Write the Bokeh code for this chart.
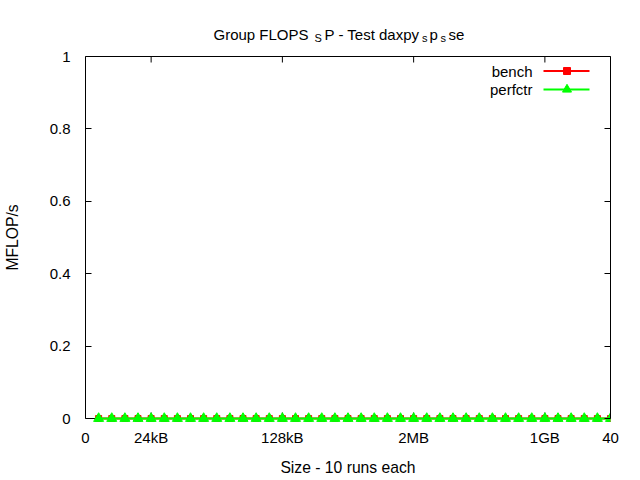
from bokeh.plotting import figure
from bokeh.models import Range1d, LinearAxis, FixedTicker, Label, Span
from bokeh.embed import file_html
from bokeh.resources import INLINE

# ---- data ----
sizes = [1, 2, 3, 4, 5, 6, 7, 8, 9, 10, 11, 12, 13, 14, 15, 16, 17, 18, 19, 20,
         21, 22, 23, 24, 25, 26, 27, 28, 29, 30, 31, 32, 33, 34, 35, 36, 37, 38, 39, 40]
bench = [0, 0, 0, 0, 0, 0, 0, 0, 0, 0, 0, 0, 0, 0, 0, 0, 0, 0, 0, 0,
         0, 0, 0, 0, 0, 0, 0, 0, 0, 0, 0, 0, 0, 0, 0, 0, 0, 0, 0, 0]
perfctr = [0, 0, 0, 0, 0, 0, 0, 0, 0, 0, 0, 0, 0, 0, 0, 0, 0, 0, 0, 0,
           0, 0, 0, 0, 0, 0, 0, 0, 0, 0, 0, 0, 0, 0, 0, 0, 0, 0, 0, 0]
x_ticks = [0, 5, 15, 25, 35, 40]
x_tick_labels = ["0", "24kB", "128kB", "2MB", "1GB", "40"]
y_ticks = [0, 0.2, 0.4, 0.6, 0.8, 1.0]
y_tick_labels = ["0", "0.2", "0.4", "0.6", "0.8", "1"]
series_names = ["bench", "perfctr"]
# title "Group FLOPS_SP - Test daxpy_sp_sse" in gnuplot enhanced-text pieces
title_texts = ["Group FLOPS", "S", "P - Test daxpy", "s", "p", "s", "se"]
title_is_sub = [False, True, False, True, False, True, False]

FONT = "Liberation Sans"
FS = "15px"
FS_LABEL = "15.7px"
RED = "#ff0000"
GREEN = "#00ff00"

# plot box: 85..610 x 56..418 px.  The frame is padded 56 px below y=0 (so markers on
# y=0 are not cut and the frame stays centred on the box) and reaches up to the
# canvas top (so the title can be drawn).
BOX_H = 362
PAD_BOT = 56
PAD_TOP = 56
p = figure(width=640, height=480, output_backend="svg", toolbar_location=None,
           x_range=Range1d(0, 40),
           y_range=Range1d(-PAD_BOT / BOX_H, 1 + PAD_TOP / BOX_H),
           min_border_left=85, min_border_right=30, min_border_top=0,
           min_border_bottom=480 - BOX_H - PAD_TOP - PAD_BOT)
p.extra_y_ranges = {"px": Range1d(-PAD_BOT, BOX_H + PAD_TOP)}
p.extra_x_ranges = {"px": Range1d(0, 525)}
p.grid.visible = False
p.outline_line_color = None
p.background_fill_color = "white"
p.border_fill_color = "white"

def style_axis(ax, ticks, labels, show, bounds):
    ax.ticker = FixedTicker(ticks=ticks)
    ax.bounds = bounds
    if show:
        ax.major_label_overrides = {t: l for t, l in zip(ticks, labels)}
    else:
        ax.major_label_overrides = {t: "" for t in ticks}
    ax.major_tick_in = 6
    ax.major_tick_out = 0
    ax.minor_tick_in = 0
    ax.minor_tick_out = 0
    ax.axis_line_color = "black"
    ax.major_tick_line_color = "black"
    ax.major_label_text_font = FONT
    ax.major_label_text_font_size = FS
    ax.major_label_text_color = "black"

xa = p.xaxis[0]
ya = p.yaxis[0]
style_axis(xa, x_ticks, x_tick_labels, True, (0, 40))
style_axis(ya, y_ticks, y_tick_labels, True, (0, 1))
# bottom axis sits at the padded frame edge: its line/ticks are drawn at y=0 instead
xa.axis_line_color = None
xa.major_tick_line_color = None
xa.major_label_standoff = 10 - PAD_BOT
ya.major_label_standoff = 15
xa.axis_label = "Size - 10 runs each"
ya.axis_label = "MFLOP/s"
for ax in (xa, ya):
    ax.axis_label_text_font = FONT
    ax.axis_label_text_font_size = FS_LABEL
    ax.axis_label_text_font_style = "normal"
    ax.axis_label_text_color = "black"
xa.axis_label_standoff = 10
ya.axis_label_standoff = 26

right = LinearAxis()
style_axis(right, y_ticks, y_tick_labels, False, (0, 1))
p.add_layout(right, "right")

# bottom and top border lines with their inward ticks
p.add_layout(Span(location=0, dimension="width", line_color="black", line_width=1,
                  level="underlay"))
p.add_layout(Span(location=1, dimension="width", line_color="black", line_width=1,
                  level="underlay"))
n = len(x_ticks)
p.segment(x0=x_ticks, y0=[0] * n, x1=x_ticks, y1=[6] * n,
          y_range_name="px", line_color="black", line_width=1, level="underlay")
p.segment(x0=x_ticks, y0=[BOX_H] * n, x1=x_ticks, y1=[BOX_H - 6] * n,
          y_range_name="px", line_color="black", line_width=1, level="underlay")

# ---- data series ----
p.line(sizes, bench, line_color=RED, line_width=2)
p.scatter(sizes, bench, marker="square", size=6, fill_color=RED, line_color=RED)
p.line(sizes, perfctr, line_color=GREEN, line_width=2)
p.scatter(sizes, perfctr, marker="triangle", size=10, fill_color=GREEN, line_color=GREEN)

# ---- legend (text left, sample right, like gnuplot) ----
leg_rows = [(series_names[0], RED, "square", 7, 347.5),
            (series_names[1], GREEN, "triangle", 9, 329)]
for name, col, mk, sz, yy in leg_rows:
    p.line([458, 504], [yy, yy], line_color=col, line_width=2,
           x_range_name="px", y_range_name="px")
    p.scatter([481.5], [yy], marker=mk, size=sz, fill_color=col, line_color=col,
              x_range_name="px", y_range_name="px")
    p.add_layout(Label(x=447, y=yy, x_range_name="px", y_range_name="px", text=name,
                       text_font=FONT, text_font_size=FS, text_align="right",
                       text_baseline="middle", text_color="black"))

# ---- title pieces (canvas coordinates, y from top) ----
title_x = [213, 314, 324, 421.5, 429, 440, 448]
for txt, sub, tx in zip(title_texts, title_is_sub, title_x):
    p.add_layout(Label(x=tx, y=37 if sub else 34, x_units="canvas", y_units="canvas",
                       text=txt, text_font=FONT, text_font_size=("11px" if sub else FS),
                       text_align="left", text_baseline="alphabetic", text_color="black"))

open("out.html", "w").write(file_html(p, INLINE))
